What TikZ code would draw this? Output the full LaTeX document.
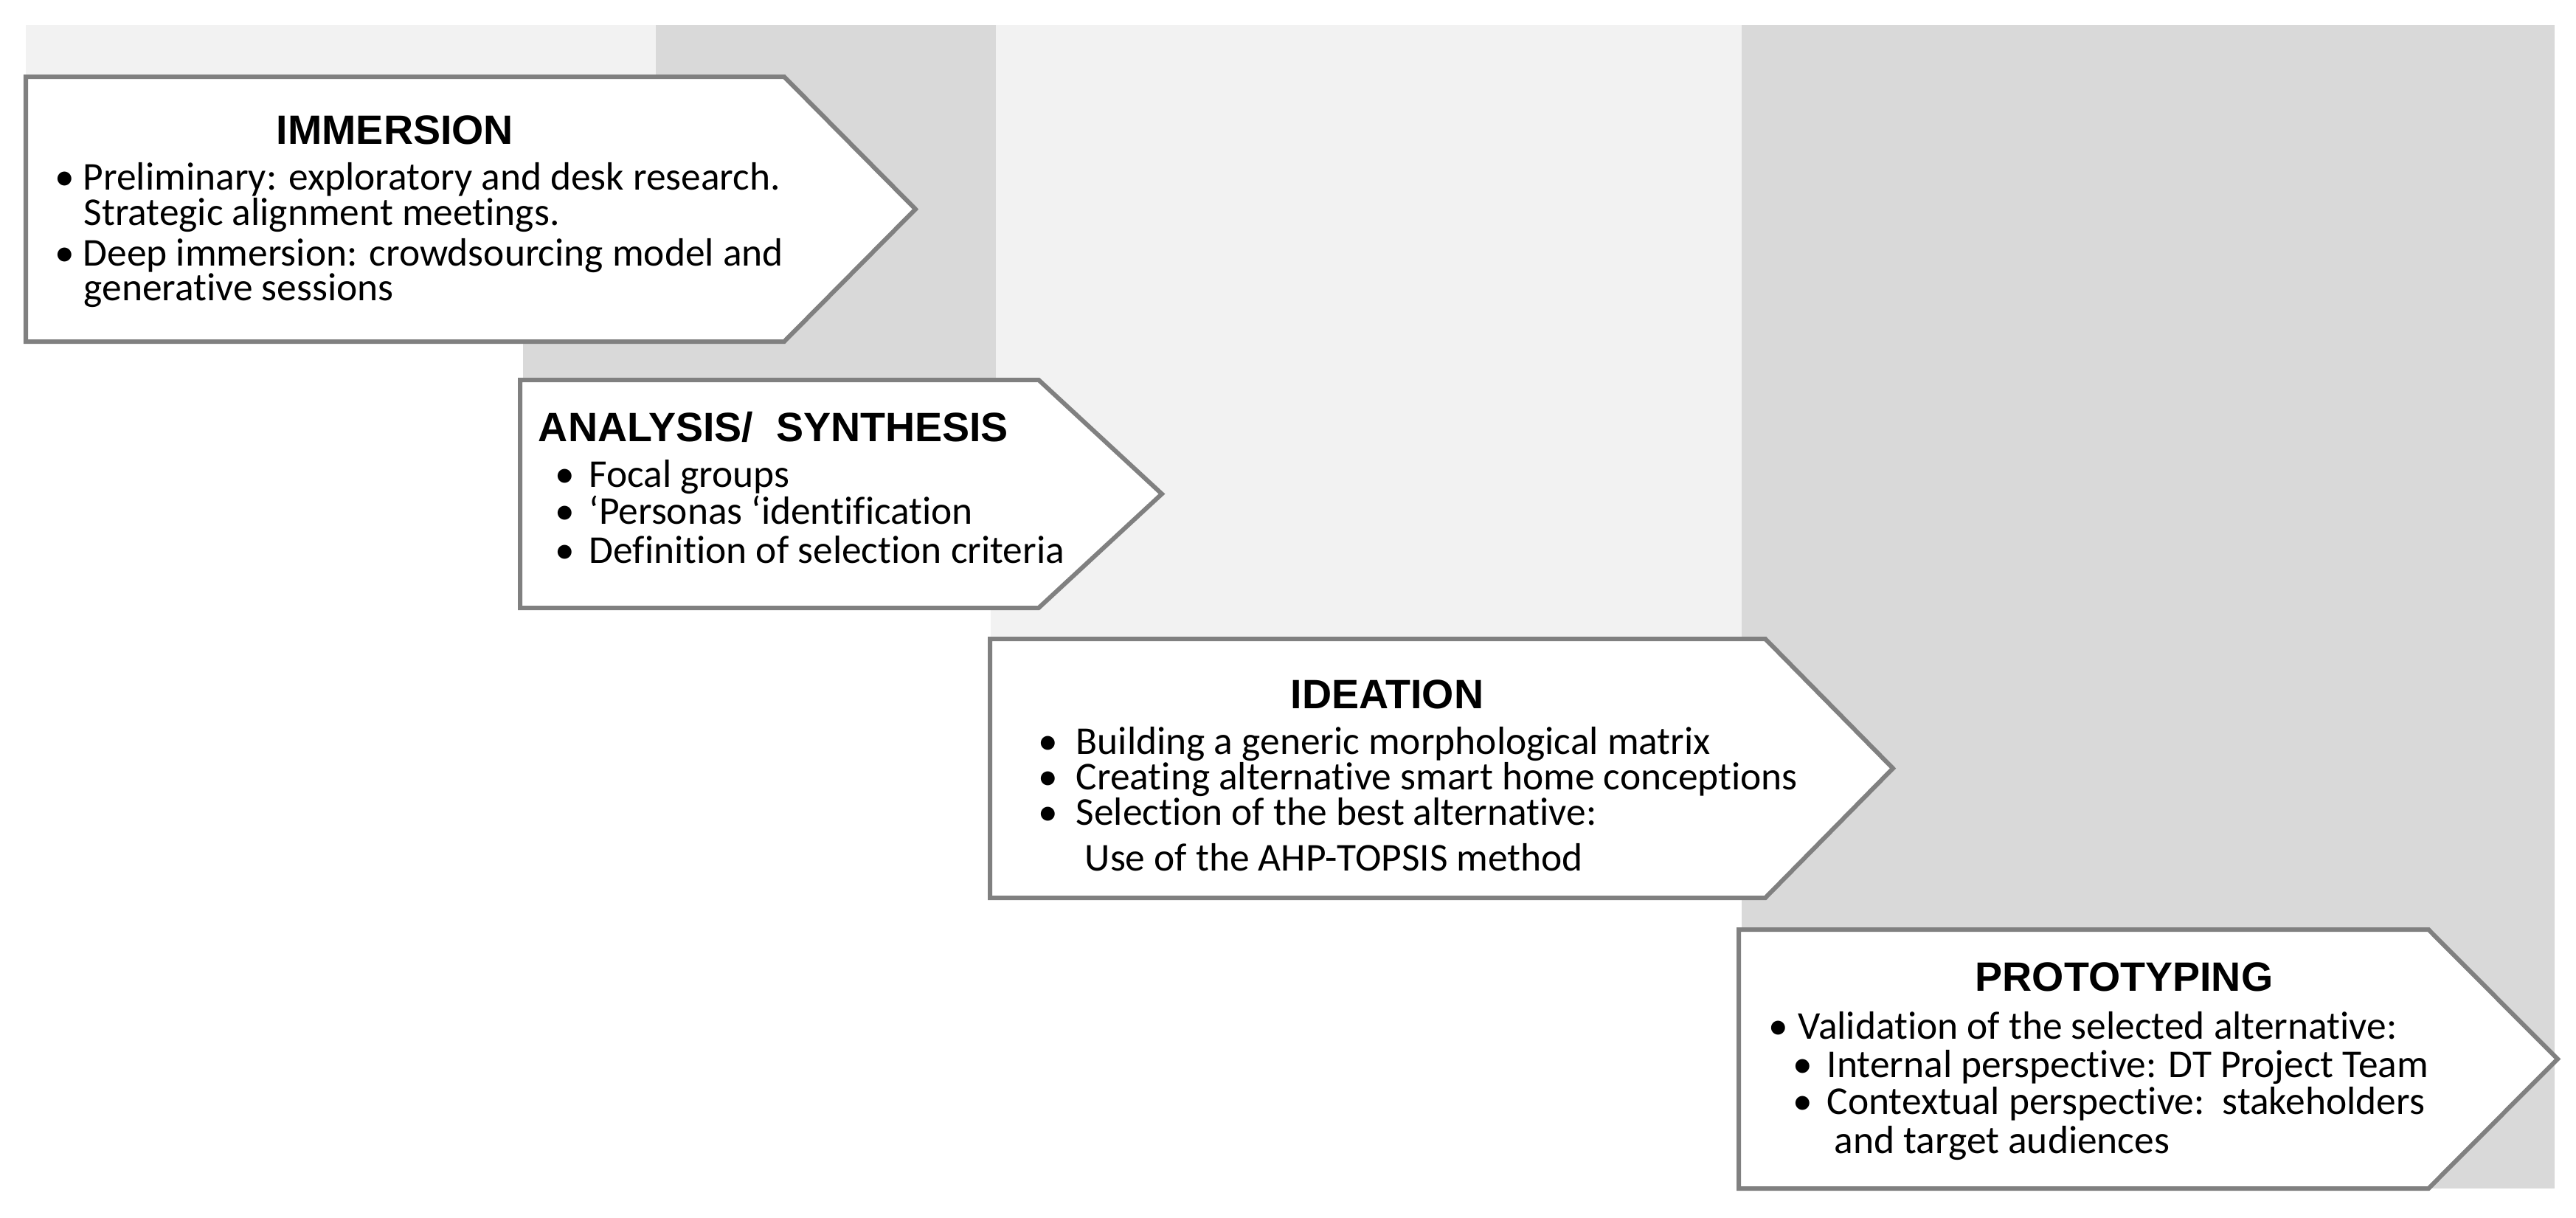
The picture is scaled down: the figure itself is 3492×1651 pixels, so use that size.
\documentclass[tikz,border=0pt]{standalone}
\usepackage{fontspec}
\setmainfont{Carlito}[Ligatures=NoCommon]
\newfontfamily\headfont{Liberation Sans}
\definecolor{lightcol}{HTML}{F2F2F2}
\definecolor{darkcol}{HTML}{D9D9D9}
\definecolor{boxline}{HTML}{808080}
\newcommand\bul[1]{\llap{\makebox[#1]{\textbullet}}}
\begin{document}
\begin{tikzpicture}[x=0.01cm, y=-0.01cm,
  lightband/.style={fill=lightcol, draw=none},
  darkband/.style={fill=darkcol, draw=none},
  stepbox/.style={draw=boxline, fill=white, line width=0.6mm, line join=miter},
  head/.style={inner sep=0pt, anchor=base, font=\fontsize{15.8}{18}\selectfont\headfont\bfseries},
  body/.style={inner sep=0pt, anchor=base west, font=\fontsize{15.2}{18}\selectfont}]
\useasboundingbox[fill=white] (0,0) rectangle (3492,1651);
% background columns
\fill[darkband]  (2361,34) rectangle (3463,1611);
\fill[lightband] (1343,34) rectangle (2361,1217);
\fill[darkband]  (709,34) rectangle (1350,824);
\fill[lightband] (35,34) rectangle (889,463);
% step shapes
\draw[stepbox] (35,104) -- (1063,104) -- (1241,283.5) -- (1063,463) -- (35,463) -- cycle;
\draw[stepbox] (705,515) -- (1408,515) -- (1575,669.5) -- (1408,824) -- (705,824) -- cycle;
\draw[stepbox] (1342,866) -- (2393,866) -- (2566,1041.5) -- (2393,1217) -- (1342,1217) -- cycle;
\draw[stepbox] (2357,1260) -- (3292,1260) -- (3467,1435.5) -- (3292,1611) -- (2357,1611) -- cycle;
% IMMERSION
\node[head] (ah) at (535.5,195) {IMMERSION};
\node[body] (a1) at (112,257) {\bul{0.5cm}Preliminary: exploratory and desk research.};
\node[body] (a2) at (113,305) {Strategic alignment meetings.};
\node[body] (a3) at (112,360) {\bul{0.5cm}Deep immersion: crowdsourcing model and};
\node[body] (a4) at (113,407) {generative sessions};
% ANALYSIS
\node[head] (bh) at (1048.5,598) {ANALYSIS/\ \ SYNTHESIS};
\node[body] (b1) at (798,660) {\bul{0.66cm}Focal groups};
\node[body] (b2) at (798,710) {\bul{0.66cm}‘Personas ‘identification};
\node[body] (b3) at (798,763) {\bul{0.66cm}Definition of selection criteria};
% IDEATION
\node[head] (ch) at (1880.5,960) {IDEATION};
\node[body] (c1) at (1458,1022) {\bul{0.76cm}Building a generic morphological matrix};
\node[body] (c2) at (1458,1070) {\bul{0.76cm}Creating alternative smart home conceptions};
\node[body] (c3) at (1458,1118) {\bul{0.76cm}Selection of the best alternative:};
\node[body] (c4) at (1470,1180) {Use of the AHP-TOPSIS method};
% PROTOTYPING
\node[head] (dh) at (2879.5,1343) {PROTOTYPING};
\node[body] (d1) at (2437,1408) {\bul{0.54cm}Validation of the selected alternative:};
\node[body] (d2) at (2476,1460) {\bul{0.66cm}Internal perspective: DT Project Team};
\node[body] (d3) at (2476,1510) {\bul{0.66cm}Contextual perspective:\ \ stakeholders};
\node[body] (d4) at (2486,1563) {and target audiences};
\end{tikzpicture}
\end{document}
